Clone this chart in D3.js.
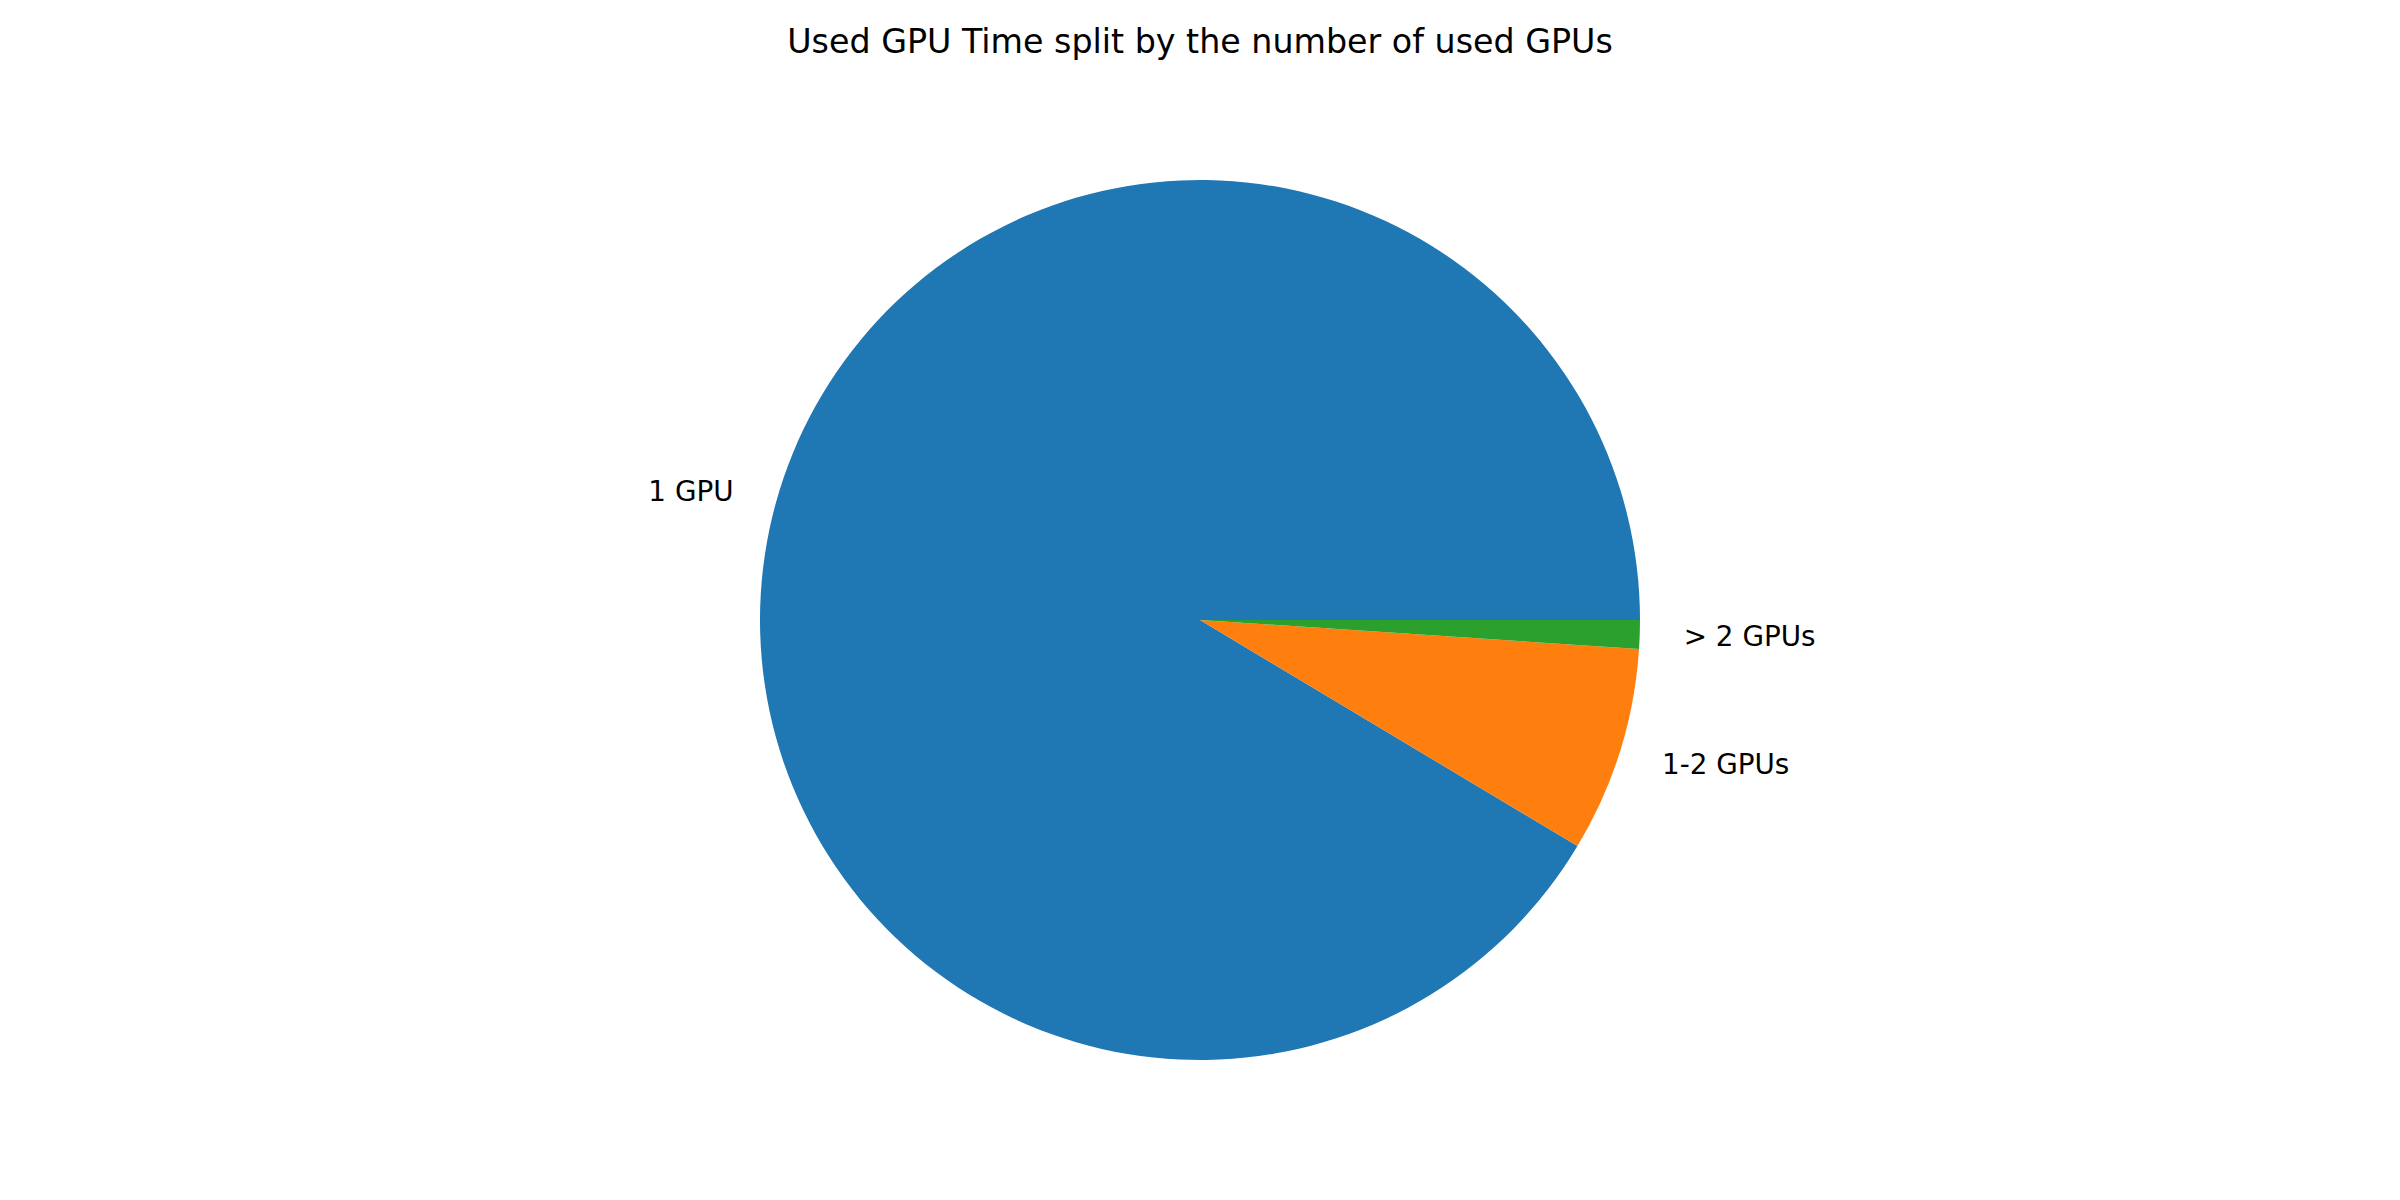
<!DOCTYPE html>
<html>
<head>
<meta charset="utf-8">
<script src="https://cdn.jsdelivr.net/npm/d3@7"></script>
<style>
  body { margin: 0; background: #fff; }
  text { font-family: "DejaVu Sans", sans-serif; fill: #000; }
</style>
</head>
<body>
<div id="main"></div>
<script>
// Slices (share of used GPU time)
const categories = ['1 GPU', '1-2 GPUs', '> 2 GPUs'];
const shares = [91.41, 7.54, 1.05];
const colors = ['#1f77b4', '#ff7f0e', '#2ca02c'];
const title = 'Used GPU Time split by the number of used GPUs';

const w = 2400;
const h = 1200;
const cx = 1200;
const cy = 620;
const radius = 440;

const svg = d3
  .select('div#main')
  .append('svg')
  .attr('width', w)
  .attr('height', h);

// Title
svg
  .append('text')
  .attr('x', w / 2)
  .attr('y', 53)
  .attr('text-anchor', 'middle')
  .style('font-size', '33.3px')
  .text(title);

// Start at 3 o'clock and go counterclockwise, like matplotlib
const pie = d3
  .pie()
  .sort(null)
  .startAngle(Math.PI / 2)
  .endAngle(Math.PI / 2 - 2 * Math.PI);

const arc = d3.arc().innerRadius(0).outerRadius(radius);

const slices = pie(shares.map((v, i) => ({ value: v, i: i })).map(d => d.value));

const g = svg.append('g').attr('transform', `translate(${cx},${cy})`);

g.selectAll('path')
  .data(slices)
  .enter()
  .append('path')
  .attr('d', arc)
  .attr('fill', (d, i) => colors[i]);

// Labels at 1.1 x radius, anchored away from the centre
const labelR = radius * 1.1;
g.selectAll('text.label')
  .data(slices)
  .enter()
  .append('text')
  .attr('class', 'label')
  .each(function (d, i) {
    const mid = (d.startAngle + d.endAngle) / 2;
    const x = Math.sin(mid) * labelR;
    const y = -Math.cos(mid) * labelR;
    d3.select(this)
      .attr('x', x)
      .attr('y', y)
      .attr('dy', '0.36em')
      .attr('text-anchor', x > 0 ? 'start' : 'end')
      .style('font-size', '27.8px')
      .text(categories[i]);
  });
</script>
</body>
</html>
